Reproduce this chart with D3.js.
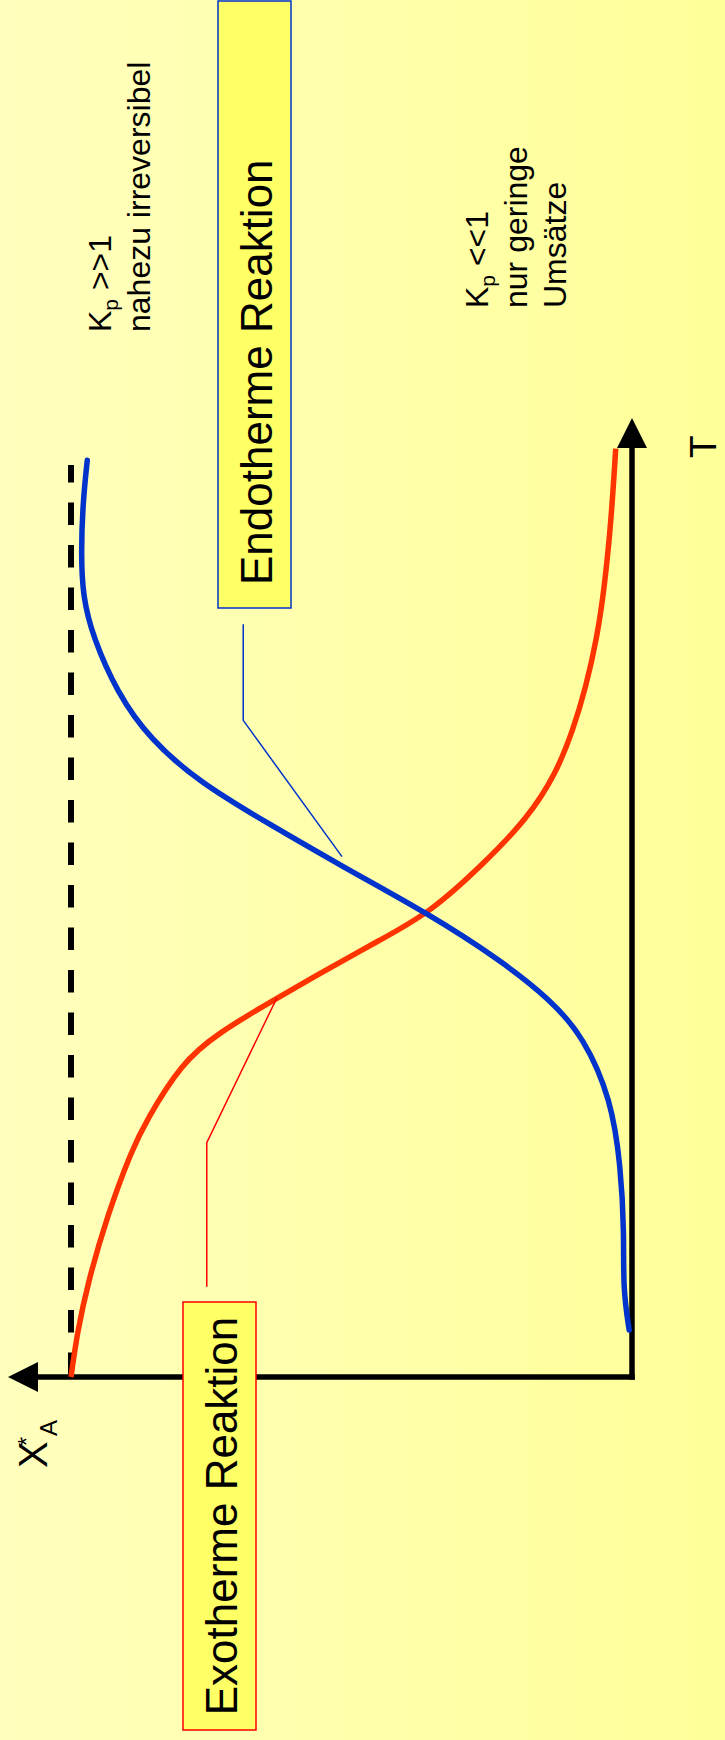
<!DOCTYPE html>
<html>
<head>
<meta charset="utf-8">
<script src="https://cdn.jsdelivr.net/npm/d3@7"></script>
<style>
  html, body { margin: 0; padding: 0; background: #FFFFAA; }
  svg { display: block; }
  text { font-family: "Liberation Sans", Arial, sans-serif; fill: #000; }
</style>
</head>
<body>
<div id="chart"></div>
<script>
// ####################################################################################
// Data - T in arbitrary units, X*A as fraction
var endoT = [0.49, 0.91, 1.50, 2.19, 2.89, 3.54, 3.93, 4.34, 4.83, 5.31, 5.77, 6.19, 6.64, 7.13, 7.71, 8.13, 8.58, 9.10, 9.55];
var endoX = [0.005, 0.016, 0.014, 0.020, 0.037, 0.086, 0.145, 0.234, 0.364, 0.514, 0.650, 0.770, 0.859, 0.918, 0.961, 0.979, 0.982, 0.979, 0.971];

var exoT = [0.00, 0.46, 0.98, 1.67, 2.36, 2.67, 3.27, 3.58, 3.95, 4.24, 4.55, 4.84, 5.35, 5.82, 6.29, 6.74, 7.19, 7.71, 8.23, 8.93, 9.67];
var exoX = [1.000, 0.989, 0.970, 0.936, 0.892, 0.866, 0.803, 0.739, 0.632, 0.545, 0.450, 0.359, 0.264, 0.186, 0.135, 0.105, 0.082, 0.062, 0.049, 0.037, 0.029];

// X*A = 1 limit line
var limitT = [0, 9.5];
var limitX = 1;

// callout leader lines [T, X]
var endoCallout = [[7.84, 0.693], [6.84, 0.693], [5.42, 0.517]];
var exoCallout = [[0.94, 0.758], [2.44, 0.758], [3.95, 0.633]];

var labels = {
  endo: "Endotherme Reaktion",
  exo: "Exotherme Reaktion",
  kpHigh: ["nahezu irreversibel"],
  kpLow: ["nur geringe", "Ums\u00e4tze"]
};

// ####################################################################################
// Layout (slide is turned by 90 degrees, drawn in landscape frame then rotated)
var W = 725, H = 1740;
var chartDim = {x0: 363, x1: 1323, y0: 632, y1: 71};

var svg = d3.select("#chart").append("svg")
  .attr("width", W)
  .attr("height", H);

var grad = svg.append("defs").append("linearGradient")
  .attr("id", "bg")
  .attr("x1", "0%").attr("x2", "100%").attr("y1", "0%").attr("y2", "0%");
grad.append("stop").attr("offset", "0%").attr("stop-color", "#FFFFBD");
grad.append("stop").attr("offset", "100%").attr("stop-color", "#FFFF99");

svg.append("rect")
  .attr("width", W).attr("height", H)
  .style("fill", "url(#bg)");

var g = svg.append("g")
  .attr("transform", `translate(0,${H}) rotate(-90)`);

var xScale = d3.scaleLinear()
  .domain([0, 10])
  .range([chartDim.x0, chartDim.x1]);

var yScale = d3.scaleLinear()
  .domain([0, 1])
  .range([chartDim.y0, chartDim.y1]);

// ###########################################
// Axes with arrow heads
var arrowLen = 30, arrowHalf = 15;

g.append("line")
  .attr("x1", xScale(0) - 2.75).attr("y1", yScale(0))
  .attr("x2", chartDim.x1 - arrowLen + 1).attr("y2", yScale(0))
  .style("stroke", "#000").style("stroke-width", 5.5);

g.append("path")
  .attr("d", `M${chartDim.x1 - 1},${yScale(0)} L${chartDim.x1 - 1 - arrowLen},${yScale(0) - arrowHalf} L${chartDim.x1 - 1 - arrowLen},${yScale(0) + arrowHalf} Z`)
  .style("fill", "#000");

g.append("line")
  .attr("x1", xScale(0)).attr("y1", yScale(0) + 2.75)
  .attr("x2", xScale(0)).attr("y2", 8 + arrowLen - 1)
  .style("stroke", "#000").style("stroke-width", 5.5);

g.append("path")
  .attr("d", `M${xScale(0)},8 L${xScale(0) - arrowHalf},${8 + arrowLen} L${xScale(0) + arrowHalf},${8 + arrowLen} Z`)
  .style("fill", "#000");

// dashed limit line
g.append("line")
  .attr("x1", xScale(limitT[0]) + 2).attr("y1", yScale(limitX))
  .attr("x2", xScale(limitT[1])).attr("y2", yScale(limitX))
  .style("stroke", "#000")
  .style("stroke-width", 6)
  .style("stroke-dasharray", "22.5,20");

// ###########################################
// Curves
var line = d3.line()
  .x(d => xScale(d[0]))
  .y(d => yScale(d[1]))
  .curve(d3.curveBasis);

g.append("path")
  .datum(exoT.map((t, i) => [t, exoX[i]]))
  .attr("d", line)
  .style("fill", "none")
  .style("stroke", "#FF3300")
  .style("stroke-width", 5.5);

g.append("path")
  .datum(endoT.map((t, i) => [t, endoX[i]]))
  .attr("d", line)
  .style("fill", "none")
  .style("stroke", "#0033CC")
  .style("stroke-width", 5.5)
  .style("stroke-linecap", "round");

// ###########################################
// Callouts
var lineStraight = d3.line()
  .x(d => xScale(d[0]))
  .y(d => yScale(d[1]));

g.append("path")
  .datum(endoCallout)
  .attr("d", lineStraight)
  .style("fill", "none").style("stroke", "#0033CC").style("stroke-width", 1.5);

g.append("path")
  .datum(exoCallout)
  .attr("d", lineStraight)
  .style("fill", "none").style("stroke", "#FF0000").style("stroke-width", 1.5);

// label boxes
g.append("rect")
  .attr("x", 1132).attr("y", 218)
  .attr("width", H - 1132 - 1).attr("height", 73)
  .style("fill", "#FFFF66").style("stroke", "#0033CC").style("stroke-width", 1.5);

g.append("text")
  .attr("x", 1155).attr("y", 272)
  .style("font-size", "44px")
  .text(labels.endo);

g.append("rect")
  .attr("x", 10).attr("y", 183)
  .attr("width", 428).attr("height", 73)
  .style("fill", "#FFFF66").style("stroke", "#FF0000").style("stroke-width", 1.5);

g.append("text")
  .attr("x", 224).attr("y", 237)
  .attr("text-anchor", "middle")
  .style("font-size", "44px")
  .text(labels.exo);

// ###########################################
// Kp notes
function kpNote(x, y0, rel, lines) {
  var t = g.append("text")
    .attr("x", x).attr("y", y0)
    .style("font-size", "32px");
  t.append("tspan").text("K");
  t.append("tspan").style("font-size", "21px").attr("dy", 7).text("p");
  t.append("tspan").attr("dy", -7).text(" " + rel);
  lines.forEach((l, i) => {
    g.append("text")
      .attr("x", x).attr("y", y0 + 39 * (i + 1))
      .style("font-size", "32px")
      .text(l);
  });
}
kpNote(1408, 111, ">>1", labels.kpHigh);
kpNote(1432, 488, "<<1", labels.kpLow);

// ###########################################
// Axis names
g.append("text")
  .attr("x", 1282).attr("y", 716)
  .style("font-size", "37px")
  .text("T");

var xa = g.append("text")
  .attr("x", 272).attr("y", 47)
  .style("font-size", "40px");
xa.append("tspan").text("X");
xa.append("tspan").style("font-size", "24px").attr("dx", -5).attr("dy", -12).text("*");
xa.append("tspan").style("font-size", "24px").attr("dx", 1).attr("dy", 22).text("A");
</script>
</body>
</html>
